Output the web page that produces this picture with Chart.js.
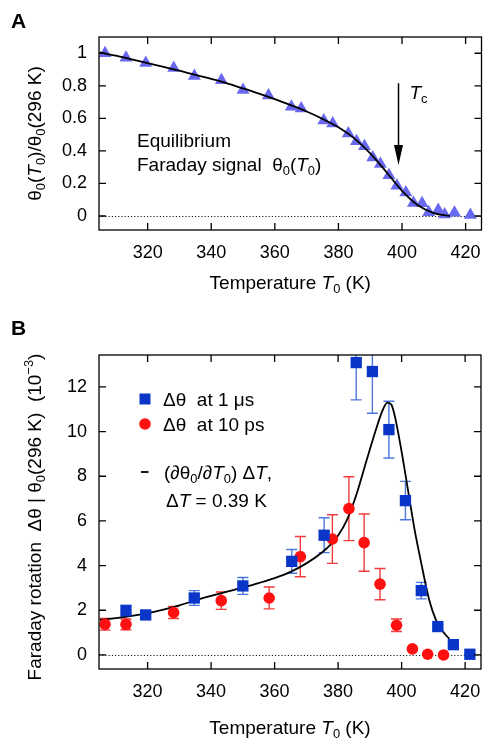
<!DOCTYPE html>
<html><head><meta charset="utf-8">
<script src="https://cdn.jsdelivr.net/npm/chart.js@4.4.1/dist/chart.umd.min.js"></script>
<style>
html,body{margin:0;padding:0;background:#fff;width:489px;height:738px;overflow:hidden}
#wa{position:absolute;left:0;top:0;width:489px;height:300px}
#wb{position:absolute;left:0;top:300px;width:489px;height:438px}
</style></head><body>
<div id="wa"><canvas id="ca"></canvas></div>
<div id="wb"><canvas id="cb"></canvas></div>
<script>
// ---------- data ----------
const xTickValues = [320, 340, 360, 380, 400, 420];
const yTickValuesA = [0, 0.2, 0.4, 0.6, 0.8, 1];
const yTickLabelsA = ['0', '0.2', '0.4', '0.6', '0.8', '1'];
const yTickValuesB = [0, 2, 4, 6, 8, 10, 12];
const yTickLabelsB = ['0', '2', '4', '6', '8', '10', '12'];

// Panel A: equilibrium Faraday signal (triangles)
const eqT = [306.6, 313.2, 319.4, 328.2, 334.7, 343.2, 350.0, 358.0, 365.2, 368.3, 375.4, 378.2, 383.1, 385.7, 388.2, 390.8, 393.2, 395.9, 398.4, 401.2, 403.6, 406.3, 408.4, 411.4, 413.4, 416.5, 421.5];
const eqVal = [1.00, 0.973, 0.94, 0.91, 0.861, 0.834, 0.775, 0.74, 0.671, 0.66, 0.587, 0.569, 0.507, 0.46, 0.428, 0.36, 0.319, 0.25, 0.186, 0.145, 0.08, 0.078, 0.023, 0.037, 0.01, 0.02, 0.006];
// Panel A: smooth curve
const fitAT = [305, 310, 315, 320, 325, 330, 335, 340, 345, 350, 355, 360, 365, 370, 375, 380, 385, 390, 395, 400, 405, 410, 415];
const fitAVal = [1.005, 0.985, 0.963, 0.94, 0.917, 0.893, 0.867, 0.842, 0.815, 0.784, 0.752, 0.718, 0.681, 0.642, 0.597, 0.545, 0.477, 0.385, 0.272, 0.155, 0.066, 0.018, 0.0];
const TcValue = 398.7;

// Panel B: delta theta at 1 us (squares)
const usT = [313.2, 319.4, 334.7, 350.0, 365.4, 375.6, 385.7, 390.8, 396.0, 401.2, 406.2, 411.4, 416.3, 421.5];
const usVal = [1.98, 1.79, 2.55, 3.09, 4.19, 5.36, 13.09, 12.69, 10.09, 6.91, 2.88, 1.27, 0.46, 0.03];
const usErr = [0.25, 0.15, 0.33, 0.38, 0.53, 0.78, 1.67, 1.87, 1.27, 0.86, 0.37, 0.1, 0.05, 0.02];
// Panel B: delta theta at 10 ps (circles)
const psT = [306.6, 313.2, 328.2, 343.2, 358.3, 368.1, 378.2, 383.4, 388.2, 393.2, 398.4, 403.4, 408.2, 413.2];
const psVal = [1.37, 1.37, 1.90, 2.43, 2.55, 4.40, 5.19, 6.55, 5.03, 3.17, 1.33, 0.27, 0.03, 0.0];
const psErr = [0.26, 0.24, 0.27, 0.39, 0.49, 0.90, 1.09, 1.43, 1.28, 0.70, 0.28, 0.05, 0.02, 0.02];
// Panel B: derivative curve
const fitBT = [305, 310, 315, 320, 325, 330, 335, 340, 345, 350, 355, 360, 365, 370, 375, 378, 380, 382.8, 385.9, 389, 392.2, 394, 395.5, 396.8, 397.9, 399.9, 402, 404.1, 406.2, 408.7, 410.8, 413, 415];
const fitBVal = [1.57, 1.65, 1.75, 1.87, 2.03, 2.22, 2.44, 2.64, 2.83, 3.02, 3.22, 3.44, 3.72, 4.1, 4.6, 5.0, 5.35, 6.05, 7.24, 8.73, 10.22, 10.95, 11.3, 11.2, 10.67, 9.18, 7.39, 5.6, 4.1, 2.46, 1.57, 1.05, 0.72];

// ---------- styles ----------
const FF = '"Liberation Sans", Arial, Helvetica, sans-serif';
const COL_TRI = '#6868f0';
const COL_SQ = '#0a36c8';
const COL_SQ_ERR = '#4c78dc';
const COL_CI = '#ff1010';
const COL_CI_ERR = '#f03c3c';

function fontStr(size, italic, bold) { return (italic ? 'italic ' : '') + (bold ? 'bold ' : '') + size + 'px ' + FF; }
function segSize(f, size) { return (f.includes('b') || f.includes('p')) ? size * 0.68 : size; }
function richWidth(ctx, segs, size) {
  let w = 0;
  for (const s of segs) { const f = s[1] || ''; ctx.font = fontStr(segSize(f, size), f.includes('i')); w += ctx.measureText(s[0]).width; }
  return w;
}
function drawRich(ctx, segs, x, y, size, align) {
  const w = richWidth(ctx, segs, size);
  let cx = align === 'center' ? x - w / 2 : (align === 'right' ? x - w : x);
  const base = y + size * 0.36;
  ctx.textBaseline = 'alphabetic'; ctx.textAlign = 'left'; ctx.fillStyle = '#000';
  for (const s of segs) {
    const f = s[1] || '';
    ctx.font = fontStr(segSize(f, size), f.includes('i'));
    let by = base;
    if (f.includes('b')) by += size * 0.22;
    if (f.includes('p')) by -= size * 0.42;
    ctx.fillText(s[0], cx, by);
    cx += ctx.measureText(s[0]).width;
  }
}

function framePlugin(xTicks, yTicks, extra) {
  return {
    id: 'frame',
    beforeDatasetsDraw(chart) {
      const { ctx, chartArea: a, scales: { y } } = chart;
      ctx.save();
      ctx.strokeStyle = '#222'; ctx.lineWidth = 1; ctx.setLineDash([1.2, 2]);
      const y0 = Math.round(y.getPixelForValue(0)) + 0.5;
      ctx.beginPath(); ctx.moveTo(a.left, y0); ctx.lineTo(a.right, y0); ctx.stroke();
      ctx.restore();
      if (extra.before) extra.before(chart);
    },
    afterDraw(chart) {
      const { ctx, chartArea: a, scales: { x, y } } = chart;
      ctx.save();
      ctx.strokeStyle = '#000'; ctx.lineWidth = 1.3; ctx.setLineDash([]);
      ctx.strokeRect(a.left, a.top, a.right - a.left, a.bottom - a.top);
      const L = 7;
      ctx.beginPath();
      for (const v of xTicks) {
        const px = x.getPixelForValue(v);
        ctx.moveTo(px, a.bottom); ctx.lineTo(px, a.bottom - L);
        ctx.moveTo(px, a.top); ctx.lineTo(px, a.top + L);
      }
      for (const v of yTicks) {
        const py = y.getPixelForValue(v);
        ctx.moveTo(a.left, py); ctx.lineTo(a.left + L, py);
        ctx.moveTo(a.right, py); ctx.lineTo(a.right - L, py);
      }
      ctx.stroke();
      if (extra.after) extra.after(chart);
      ctx.restore();
    }
  };
}

function xScale(bottomH) {
  return {
    type: 'linear', min: 304.7, max: 425,
    grid: { display: false }, border: { display: false },
    ticks: { font: { family: FF, size: 18 }, color: '#000', padding: 4, autoSkip: false, maxRotation: 0, callback: v => String(v) },
    afterBuildTicks: s => { s.ticks = xTickValues.map(v => ({ value: v })); },
    afterFit: s => { s.height = bottomH; }
  };
}
function yScale(min, max, vals, labels) {
  return {
    type: 'linear', min: min, max: max,
    grid: { display: false }, border: { display: false },
    ticks: { font: { family: FF, size: 18 }, color: '#000', padding: 4, autoSkip: false, callback: (v, i) => labels[i] },
    afterBuildTicks: s => { s.ticks = vals.map(v => ({ value: v })); },
    afterFit: s => { s.width = 99; }
  };
}

// ---------- Panel A ----------
const ctxA = document.getElementById('ca');
new Chart(ctxA, {
  type: 'scatter',
  data: {
    datasets: [
      { data: eqT.map((t, i) => ({ x: t, y: eqVal[i] })), pointStyle: 'triangle', pointRadius: 7.5, pointHoverRadius: 7.5,
        backgroundColor: COL_TRI, borderWidth: 0, showLine: false, clip: false, order: 2 },
      { data: fitAT.map((t, i) => ({ x: t, y: fitAVal[i] })), showLine: true, pointRadius: 0, borderColor: '#000', borderWidth: 1.8,
        cubicInterpolationMode: 'monotone', fill: false, order: 1 }
    ]
  },
  options: {
    responsive: true, maintainAspectRatio: false, animation: false, devicePixelRatio: 1,
    layout: { padding: { left: 0, right: 4, top: 37, bottom: 0 } },
    plugins: { legend: { display: false }, tooltip: { enabled: false } },
    events: [],
    scales: { x: xScale(70), y: yScale(-0.086, 1.1, yTickValuesA, yTickLabelsA) }
  },
  plugins: [framePlugin(xTickValues, yTickValuesA, {
    after(chart) {
      const { ctx, chartArea: a, scales: { x, y } } = chart;
      ctx.fillStyle = '#000';
      ctx.font = fontStr(21, false, true); ctx.textAlign = 'left'; ctx.textBaseline = 'middle';
      ctx.fillText('A', 11, 22);
      drawRich(ctx, [['Temperature '], ['T', 'i'], ['0', 'b'], [' (K)']], (a.left + a.right) / 2, 282, 19, 'center');
      ctx.save(); ctx.translate(34, (a.top + a.bottom) / 2); ctx.rotate(-Math.PI / 2);
      drawRich(ctx, [['θ'], ['0', 'b'], ['('], ['T', 'i'], ['0', 'b'], [')/θ'], ['0', 'b'], ['(296 K)']], 0, 0, 19, 'center');
      ctx.restore();
      drawRich(ctx, [['Equilibrium']], 137, 140, 19, 'left');
      drawRich(ctx, [['Faraday signal  θ'], ['0', 'b'], ['('], ['T', 'i'], ['0', 'b'], [')']], 137, 164, 19, 'left');
      // Tc arrow
      const ax = Math.round(x.getPixelForValue(TcValue)) + 0.5;
      const yTop = y.getPixelForValue(0.816), yTip = y.getPixelForValue(0.313);
      ctx.strokeStyle = '#000'; ctx.lineWidth = 1.5;
      ctx.beginPath(); ctx.moveTo(ax, yTop); ctx.lineTo(ax, yTip - 15); ctx.stroke();
      ctx.beginPath(); ctx.moveTo(ax - 4.5, yTip - 20); ctx.lineTo(ax + 4.5, yTip - 20); ctx.lineTo(ax, yTip); ctx.closePath(); ctx.fill();
      drawRich(ctx, [['T', 'i'], ['c', 'b']], ax + 11, 92, 19, 'left');
    }
  })]
});

// ---------- Panel B ----------
function drawErrBars(chart, T, V, E, color) {
  const { ctx, chartArea: a, scales: { x, y } } = chart;
  ctx.save();
  ctx.beginPath(); ctx.rect(a.left, a.top, a.right - a.left, a.bottom - a.top); ctx.clip();
  ctx.strokeStyle = color; ctx.lineWidth = 1.4;
  ctx.beginPath();
  for (let i = 0; i < T.length; i++) {
    const px = x.getPixelForValue(T[i]);
    const p1 = y.getPixelForValue(V[i] + E[i]), p2 = y.getPixelForValue(V[i] - E[i]);
    ctx.moveTo(px, p1); ctx.lineTo(px, p2);
    ctx.moveTo(px - 5.5, p1); ctx.lineTo(px + 5.5, p1);
    ctx.moveTo(px - 5.5, p2); ctx.lineTo(px + 5.5, p2);
  }
  ctx.stroke();
  ctx.restore();
}

const ctxB = document.getElementById('cb');
new Chart(ctxB, {
  type: 'scatter',
  data: {
    datasets: [
      { data: fitBT.map((t, i) => ({ x: t, y: fitBVal[i] })), showLine: true, pointRadius: 0, borderColor: '#000', borderWidth: 1.8,
        cubicInterpolationMode: 'monotone', fill: false, order: 3 },
      { data: psT.map((t, i) => ({ x: t, y: psVal[i] })), pointStyle: 'circle', pointRadius: 5.8, pointHoverRadius: 5.8,
        backgroundColor: COL_CI, borderWidth: 0, showLine: false, clip: false, order: 2 },
      { data: usT.map((t, i) => ({ x: t, y: usVal[i] })), pointStyle: 'rect', pointRadius: 8, pointHoverRadius: 8,
        backgroundColor: COL_SQ, borderWidth: 0, showLine: false, clip: false, order: 1 }
    ]
  },
  options: {
    responsive: true, maintainAspectRatio: false, animation: false, devicePixelRatio: 1,
    layout: { padding: { left: 0, right: 4, top: 55, bottom: 0 } },
    plugins: { legend: { display: false }, tooltip: { enabled: false } },
    events: [],
    scales: { x: xScale(69), y: yScale(-0.63, 13.43, yTickValuesB, yTickLabelsB) }
  },
  plugins: [framePlugin(xTickValues, yTickValuesB, {
    before(chart) {
      drawErrBars(chart, psT, psVal, psErr, COL_CI_ERR);
      drawErrBars(chart, usT, usVal, usErr, COL_SQ_ERR);
    },
    after(chart) {
      const { ctx, chartArea: a } = chart;
      ctx.fillStyle = '#000';
      ctx.font = fontStr(21, false, true); ctx.textAlign = 'left'; ctx.textBaseline = 'middle';
      ctx.fillText('B', 11, 29);
      drawRich(ctx, [['Temperature '], ['T', 'i'], ['0', 'b'], [' (K)']], (a.left + a.right) / 2, 427, 19, 'center');
      ctx.save(); ctx.translate(34, 217); ctx.rotate(-Math.PI / 2);
      drawRich(ctx, [['Faraday rotation  Δθ | θ'], ['0', 'b'], ['(296 K)  (10'], ['−3', 'p'], [')']], 0, 0, 19, 'center');
      ctx.restore();
      // legend
      ctx.fillStyle = COL_SQ; ctx.fillRect(145 - 5.5, 99 - 5.5, 11, 11);
      drawRich(ctx, [['Δθ  at 1 μs']], 163, 99, 19, 'left');
      ctx.fillStyle = COL_CI; ctx.beginPath(); ctx.arc(145, 124, 5.8, 0, Math.PI * 2); ctx.fill();
      drawRich(ctx, [['Δθ  at 10 ps']], 163, 124, 19, 'left');
      ctx.strokeStyle = '#000'; ctx.lineWidth = 1.8;
      ctx.beginPath(); ctx.moveTo(141, 172); ctx.lineTo(148.5, 172); ctx.stroke();
      drawRich(ctx, [['(∂θ'], ['0', 'b'], ['/∂'], ['T', 'i'], ['0', 'b'], [') Δ'], ['T', 'i'], [',']], 164, 172, 19, 'left');
      drawRich(ctx, [['Δ'], ['T', 'i'], [' = 0.39 K']], 166, 200, 19, 'left');
    }
  })]
});
</script>
</body></html>
